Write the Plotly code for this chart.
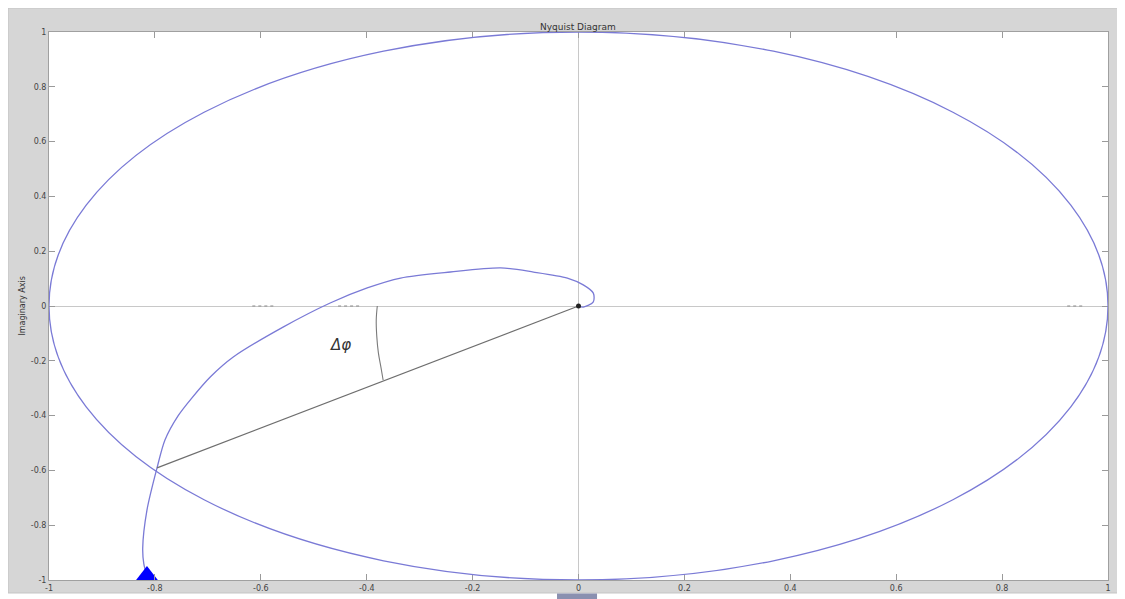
import plotly.graph_objects as go

# ---- data ----
nyq_re = [-0.815, -0.821, -0.823, -0.815, -0.796, -0.781, -0.756, -0.730, -0.695, -0.652, -0.558,
          -0.469, -0.399, -0.336, -0.242, -0.147, -0.085, -0.021, 0.009, 0.028, 0.028, 0.009, 0.0]
nyq_im = [-0.985, -0.940, -0.883, -0.745, -0.591, -0.489, -0.400, -0.335, -0.258, -0.186, -0.077,
          0.011, 0.066, 0.102, 0.124, 0.139, 0.124, 0.102, 0.077, 0.047, 0.015, -0.004, 0.0]

phase_line_re = [0.0, -0.796]
phase_line_im = [0.0, -0.591]

arc_re = [-0.380, -0.382, -0.381, -0.378, -0.373, -0.369]
arc_im = [0.0, -0.051, -0.110, -0.170, -0.225, -0.270]

dot_segments = [(-0.616, -0.576), (-0.454, -0.413), (0.923, 0.957)]

arrow_re = [-0.815]
arrow_im = [-0.985]

tick_vals = [-1, -0.8, -0.6, -0.4, -0.2, 0, 0.2, 0.4, 0.6, 0.8, 1]
tick_text = ["-1", "-0.8", "-0.6", "-0.4", "-0.2", "0", "0.2", "0.4", "0.6", "0.8", "1"]

curve_color = "#7a7ad6"

fig = go.Figure()

for a, b in dot_segments:
    fig.add_trace(go.Scatter(x=[a, b], y=[0, 0], mode="lines",
                             line=dict(color="#8a8a8a", width=1.2, dash="dot"),
                             hoverinfo="skip", showlegend=False))

fig.add_trace(go.Scatter(x=nyq_re, y=nyq_im, mode="lines",
                         line=dict(color=curve_color, width=1.3, shape="spline", smoothing=0.8),
                         showlegend=False))

fig.add_trace(go.Scatter(x=phase_line_re, y=phase_line_im, mode="lines",
                         line=dict(color="#6e6e6e", width=1.2), showlegend=False))

fig.add_trace(go.Scatter(x=arc_re, y=arc_im, mode="lines",
                         line=dict(color="#7a7a7a", width=1.1, shape="spline"), showlegend=False))

fig.add_trace(go.Scatter(x=[0], y=[0], mode="markers",
                         marker=dict(color="#222222", size=5), showlegend=False))

fig.add_trace(go.Scatter(x=arrow_re, y=arrow_im, mode="markers",
                         marker=dict(color="#0000ff", size=20, symbol="triangle-up"),
                         showlegend=False))

fig.add_annotation(x=-0.45, y=-0.142, text="<i>Δφ</i>", showarrow=False,
                   font=dict(family="DejaVu Sans", size=15, color="#333333"))

fig.add_shape(type="circle", xref="x", yref="y", x0=-1, x1=1, y0=-1, y1=1,
              line=dict(color=curve_color, width=1.3), layer="above")

# gray frame (paper) and white plot area on top of it
fig.add_shape(type="rect", xref="paper", yref="paper",
              x0=-0.0387, x1=1.0094, y0=-0.0237, y1=1.0438,
              fillcolor="#d6d6d6", line=dict(color="#c4c4c4", width=1), layer="below")
fig.add_shape(type="rect", xref="paper", yref="paper",
              x0=0, x1=1, y0=0, y1=1,
              fillcolor="white", line=dict(width=0), layer="below")
fig.add_shape(type="rect", xref="paper", yref="paper",
              x0=0.4797, x1=0.5175, y0=-0.0347, y1=-0.0245,
              fillcolor="#8a90b0", line=dict(width=0), layer="below")

fig.add_annotation(xref="paper", yref="paper", x=0.4995, y=1.0219, text="Nyquist Diagram",
                   showarrow=False, font=dict(family="DejaVu Sans", size=9, color="#333333"))
fig.add_annotation(xref="paper", yref="paper", x=-0.032, y=0.5, text="Imaginary Axis",
                   textangle=-90, showarrow=False,
                   font=dict(family="DejaVu Sans", size=8, color="#333333"))

axis_common = dict(
    tickvals=tick_vals, ticktext=tick_text, ticks="inside", ticklen=6,
    tickcolor="#9a9a9a", mirror="ticks", showline=True, linecolor="#a0a0a0", linewidth=1,
    showgrid=False, zeroline=True, zerolinecolor="#c8c8c8", zerolinewidth=1,
    tickfont=dict(family="DejaVu Sans", size=8, color="#444444"), fixedrange=True,
    automargin=False,
)

fig.update_layout(
    width=1117, height=591,
    margin=dict(l=41, r=17, t=24, b=19),
    paper_bgcolor="white", plot_bgcolor="white",
    xaxis=dict(range=[-1, 1], **axis_common),
    yaxis=dict(range=[-1, 1], **axis_common),
    showlegend=False,
)

fig.write_html("out.html")
